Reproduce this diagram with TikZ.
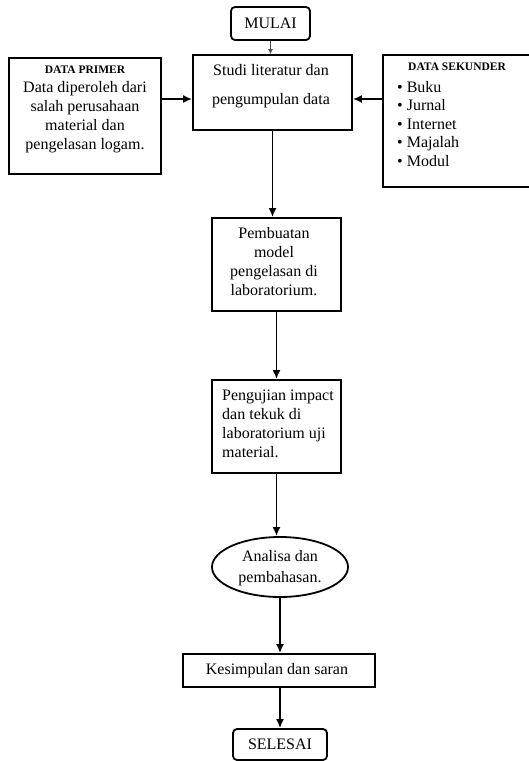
\documentclass[tikz,border=0pt]{standalone}
\usepackage{fontspec}
\setmainfont{Liberation Serif}
\usetikzlibrary{arrows.meta}
\usetikzlibrary{shapes}

\begin{document}
\begin{tikzpicture}[x=1pt,y=-1pt,
				every node/.style={font=\fontsize{16}{19}\selectfont},
				kotak/.style={draw=black,line width=1.8pt,inner sep=0pt},
				terminal/.style={kotak,rounded corners=4pt},
				judul/.style={font=\fontsize{11.5}{13}\selectfont\bfseries,inner sep=0pt},
				teks/.style={align=center,inner sep=0pt},
				panah/.style={-{Latex[length=9pt,width=8pt]},color=black,line width=1.8pt}]
				\path[use as bounding box,clip] (0,0) rectangle (529,761);
				
				% kotak
				\node[terminal,minimum width=79pt,minimum height=33pt] (mulai) at (270.5,23.5) {MULAI};
				\node[kotak,minimum width=159pt,minimum height=75pt] (studi) at (272.5,92.5) {};
				\node[kotak,minimum width=152pt,minimum height=116pt] (primer) at (85,116) {};
				\node[kotak,minimum width=160pt,minimum height=132pt] (sekunder) at (463,121) {};
				\node[kotak,minimum width=129pt,minimum height=93pt] (pemb) at (276.5,264.5) {};
				\node[kotak,minimum width=129pt,minimum height=93pt] (uji) at (276.5,426.5) {};
				\node[kotak,ellipse,minimum width=136pt,minimum height=60pt] (analisa) at (280,567) {};
				\node[kotak,minimum width=192pt,minimum height=33pt] (kes) at (279,670.5) {};
				\node[terminal,minimum width=94pt,minimum height=31pt] (selesai) at (280,744.5) {SELESAI};
				
				% teks
				\node[teks] (tstudi) at (271,86) {Studi literatur dan\\[10pt]pengumpulan data};
				\node[judul] (jprimer) at (85,70) {DATA PRIMER};
				\node[teks] (tprimer) at (85,117) {Data diperoleh dari\\salah perusahaan\\material dan\\pengelasan logam.};
				\node[judul,anchor=west] (jsekunder) at (408,67) {DATA SEKUNDER};
				\node[teks,align=left,anchor=west,font=\fontsize{16}{18.5}\selectfont] (tsekunder) at (397,124)
				{\textbullet\ Buku\\\textbullet\ Jurnal\\\textbullet\ Internet\\\textbullet\ Majalah\\\textbullet\ Modul};
				\node[teks] (tpemb) at (274,262) {Pembuatan\\model\\pengelasan di\\laboratorium.};
				\node[teks,align=left,anchor=west] (tuji) at (222,424) {Pengujian impact\\dan tekuk di\\laboratorium uji\\material.};
				\node[teks] (tanalisa) at (280,568) {Analisa dan\\[2pt]pembahasan.};
				\node[teks] (tkes) at (277,671) {Kesimpulan dan saran};
				
				% panah
				\coordinate (h) at (0,99);
				\draw[-{Latex[length=5pt,width=5pt]},color=black!70,line width=0.9pt] (mulai.south) -- (mulai.south |- studi.north);
				\draw[panah] (primer.east |- h) -- (studi.west |- h);
				\draw[panah] (sekunder.west |- h) -- (studi.east |- h);
				\draw[panah] (studi.south) -- (studi.south |- pemb.north);
				\draw[panah] (pemb.south) -- (uji.north);
				\draw[panah] (uji.south) -- (uji.south |- analisa.north);
				\draw[panah] (analisa.south) -- (analisa.south |- kes.north);
				\draw[panah] (kes.south -| selesai.north) -- (selesai.north);
			\end{tikzpicture}
\end{document}
